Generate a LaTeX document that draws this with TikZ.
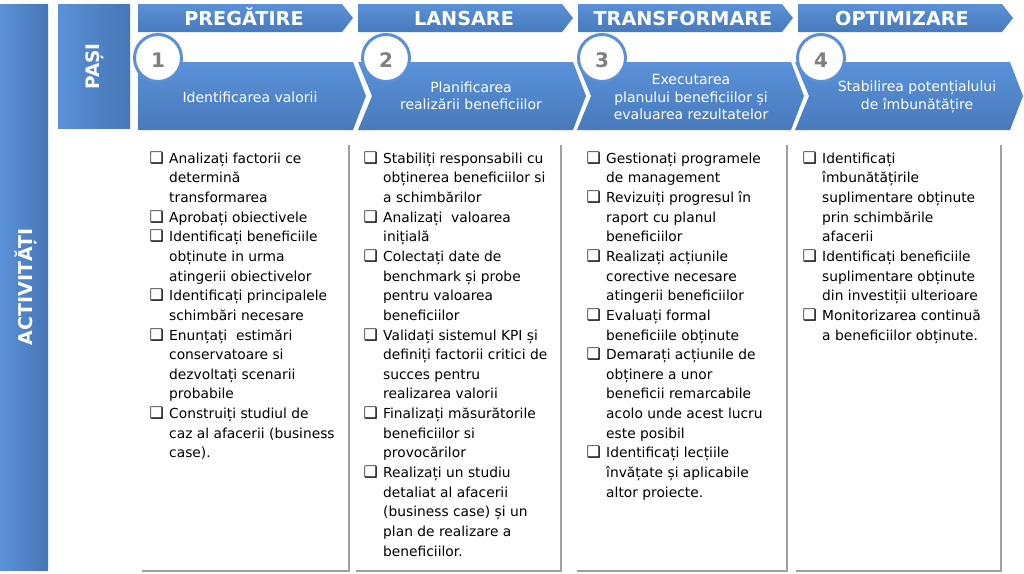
\documentclass[tikz,border=0pt]{standalone}
\usepackage{graphicx}
\usepackage{fontspec}
\setmainfont{DejaVu Sans}
\definecolor{bT}{RGB}{90,145,216}
\definecolor{bB}{RGB}{72,122,188}
\definecolor{bL}{RGB}{90,145,216}
\definecolor{bR}{RGB}{70,118,182}
\definecolor{ringc}{RGB}{91,143,214}
\definecolor{numc}{RGB}{127,127,127}
\definecolor{lineg}{RGB}{160,160,160}
\newcommand\ck{\makebox[19.5pt][l]{\scalebox{1.15}{❑}}}
\begin{document}
\begin{tikzpicture}[x=1pt,y=-1pt,
  hdr/.style={top color=bT, bottom color=bB, draw=none},
  bar/.style={left color=bL, right color=bR, draw=none},
  ring/.style={draw=ringc, line width=3pt, fill=white},
  num/.style={font=\fontsize{20}{20}\selectfont\bfseries, text=numc, inner sep=0pt},
  hdrtxt/.style={font=\fontsize{19.2}{20}\selectfont\bfseries, text=white, inner sep=0pt, anchor=base},
  sidetxt/.style={font=\fontsize{19}{20}\selectfont\bfseries, text=white, inner sep=0pt, rotate=90, anchor=base},
  steptxt/.style={font=\fontsize{14}{17.5}\selectfont, text=white, align=center, inner sep=0pt},
  coltxt/.style={font=\fontsize{13.8}{19.65}\selectfont, anchor=north west, inner sep=0pt},
  rulegray/.style={draw=lineg, line width=1.3pt}]
\useasboundingbox (0,0) rectangle (1024,573);
\fill[white] (0,0) rectangle (1024,573);

% side bars
\path[bar] (0,4) rectangle (48,570);
\path[bar] (58,4) rectangle (130,128);
\node[sidetxt] (act) at (32,287) {ACTIVITĂȚI};
\node[sidetxt, font=\fontsize{18.5}{20}\selectfont\bfseries] (pasi) at (99.5,66.5) {PAȘI};

% header arrows
\path[hdr] (138,4) -- (342,4) -- (353,18) -- (342,32) -- (138,32) -- cycle;
\path[hdr] (358,4) -- (562,4) -- (573,18) -- (562,32) -- (358,32) -- cycle;
\path[hdr] (578,4) -- (782,4) -- (793,18) -- (782,32) -- (578,32) -- cycle;
\path[hdr] (798,4) -- (1002,4) -- (1013,18) -- (1002,32) -- (798,32) -- cycle;
\node[hdrtxt] (h1) at (244,25) {PREGĂTIRE};
\node[hdrtxt] (h2) at (464,25) {LANSARE};
\node[hdrtxt] (h3) at (683,25) {TRANSFORMARE};
\node[hdrtxt] (h4) at (902,25) {OPTIMIZARE};

% step arrows
\path[hdr] (138,62) -- (353,62) -- (366,96) -- (353,130) -- (138,130) -- cycle;
\path[hdr] (358,62) -- (573,62) -- (586,96) -- (573,130) -- (358,130) -- (372,96) -- cycle;
\path[hdr] (577,62) -- (791,62) -- (804,96) -- (791,130) -- (577,130) -- (591,96) -- cycle;
\path[hdr] (795,62) -- (1010,62) -- (1023,96) -- (1010,130) -- (795,130) -- (809,96) -- cycle;

% numbered circles
\draw[ring] (158,58) circle[radius=23.5];
\draw[ring] (386,58) circle[radius=23.5];
\draw[ring] (602,58) circle[radius=23.5];
\draw[ring] (821,58) circle[radius=23.5];
\node[num] (n1) at (158,60) {1};
\node[num] (n2) at (386,60) {2};
\node[num] (n3) at (602,60) {3};
\node[num] (n4) at (821,60) {4};

% step texts
\node[steptxt] (s1) at (250,97) {Identificarea valorii};
\node[steptxt] (s2) at (471,96) {Planificarea\\realizării beneficiilor};
\node[steptxt] (s3) at (691,97) {Executarea\\planului beneficiilor și\\evaluarea rezultatelor};
\node[steptxt] (s4) at (917,97) {Stabilirea potențialului\\de îmbunătățire};

% column borders
\draw[rulegray] (349,145) -- (349,571) -- (142,571);
\draw[rulegray] (561,145) -- (561,571) -- (356,571);
\draw[rulegray] (787,145) -- (787,571) -- (577,571);
\draw[rulegray] (1001,145) -- (1001,571) -- (796,571);

% column texts
\node[coltxt] (c1) at (149.5,149.2) {\begin{tabular}{@{}l@{}l@{}}
\ck & Analizați factorii ce\\
 & determină\\
 & transformarea\\
\ck & Aprobați obiectivele\\
\ck & Identificați beneficiile\\
 & obținute in urma\\
 & atingerii obiectivelor\\
\ck & Identificați principalele\\
 & schimbări necesare\\
\ck & Enunțați~ estimări\\
 & conservatoare si\\
 & dezvoltați scenarii\\
 & probabile\\
\ck & Construiți studiul de\\
 & caz al afacerii (business\\
 & case).
\end{tabular}};

\node[coltxt] (c2) at (363.5,149.2) {\begin{tabular}{@{}l@{}l@{}}
\ck & Stabiliți responsabili cu\\
 & obținerea beneficiilor si\\
 & a schimbărilor\\
\ck & Analizați~ valoarea\\
 & inițială\\
\ck & Colectați date de\\
 & benchmark și probe\\
 & pentru valoarea\\
 & beneficiilor\\
\ck & Validați sistemul KPI și\\
 & definiți factorii critici de\\
 & succes pentru\\
 & realizarea valorii\\
\ck & Finalizați măsurătorile\\
 & beneficiilor si\\
 & provocărilor\\
\ck & Realizați un studiu\\
 & detaliat al afacerii\\
 & (business case) și un\\
 & plan de realizare a\\
 & beneficiilor.
\end{tabular}};

\node[coltxt] (c3) at (586.5,149.2) {\begin{tabular}{@{}l@{}l@{}}
\ck & Gestionați programele\\
 & de management\\
\ck & Revizuiți progresul în\\
 & raport cu planul\\
 & beneficiilor\\
\ck & Realizați acțiunile\\
 & corective necesare\\
 & atingerii beneficiilor\\
\ck & Evaluați formal\\
 & beneficiile obținute\\
\ck & Demarați acțiunile de\\
 & obținere a unor\\
 & beneficii remarcabile\\
 & acolo unde acest lucru\\
 & este posibil\\
\ck & Identificați lecțiile\\
 & învățate și aplicabile\\
 & altor proiecte.
\end{tabular}};

\node[coltxt] (c4) at (802.5,149.2) {\begin{tabular}{@{}l@{}l@{}}
\ck & Identificați\\
 & îmbunătățirile\\
 & suplimentare obținute\\
 & prin schimbările\\
 & afacerii\\
\ck & Identificați beneficiile\\
 & suplimentare obținute\\
 & din investiții ulterioare\\
\ck & Monitorizarea continuă\\
 & a beneficiilor obținute.
\end{tabular}};
\end{tikzpicture}
\end{document}
